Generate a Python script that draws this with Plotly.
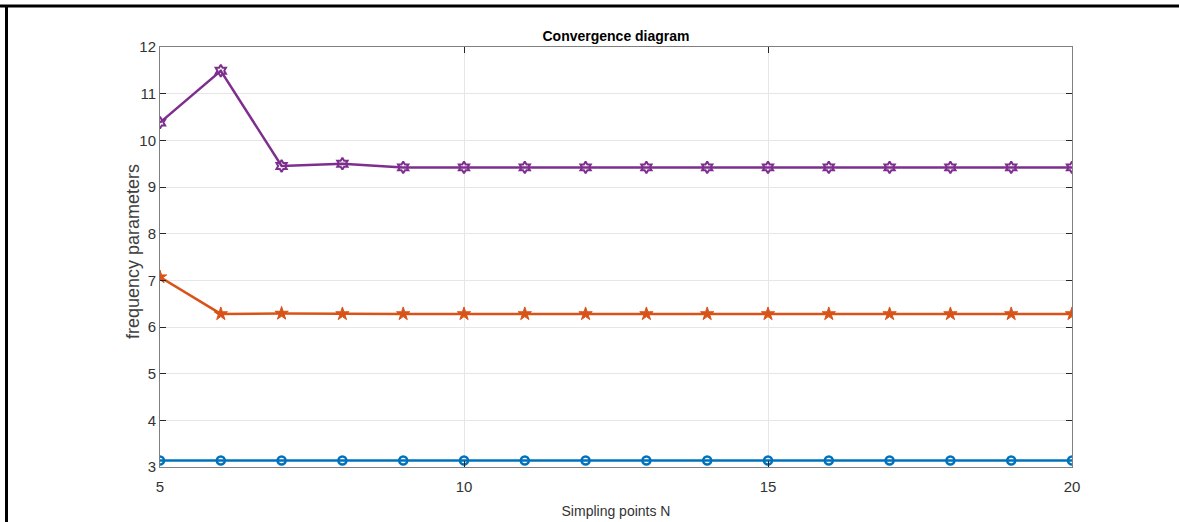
import plotly.graph_objects as go

N = list(range(5, 21))
mode1 = [3.14] * 16
mode2 = [7.07, 6.28, 6.29, 6.28, 6.28, 6.28, 6.28, 6.28, 6.28, 6.28, 6.28, 6.28, 6.28, 6.28, 6.28, 6.28]
mode3 = [10.38, 11.49, 9.45, 9.50, 9.42, 9.42, 9.42, 9.42, 9.42, 9.42, 9.42, 9.42, 9.42, 9.42, 9.42, 9.42]

FONT = "Liberation Sans, Arial, sans-serif"

fig = go.Figure()
fig.add_trace(go.Scatter(x=N, y=mode1, mode="lines+markers",
                         line=dict(color="#0072BD", width=2.5),
                         marker=dict(symbol="circle-open", size=8, color="#0072BD", line=dict(width=2.5))))
fig.add_trace(go.Scatter(x=N, y=mode2, mode="lines+markers",
                         line=dict(color="#D95319", width=2.5),
                         marker=dict(symbol="star", size=10, color="#D95319", line=dict(width=1, color="#D95319"))))
fig.add_trace(go.Scatter(x=N, y=mode3, mode="lines+markers",
                         line=dict(color="#7E2F8E", width=2.5),
                         marker=dict(symbol="hexagram-open", size=9, color="#7E2F8E", line=dict(width=2))))

L, R, T, B = 160, 107, 47, 55
W, H = 1179, 522
pw, ph = W - L - R, H - T - B

def px(x):
    return (x - L) / pw

def py(y):
    return (H - B - y) / ph

fig.update_layout(
    width=W, height=H,
    margin=dict(l=L, r=R, t=T, b=B, autoexpand=False),
    paper_bgcolor="white", plot_bgcolor="white",
    showlegend=False,
    font=dict(family=FONT, color="#262626", size=15),
    title=dict(text="<b>Convergence diagram</b>", x=px(616), xref="paper", xanchor="center",
               y=1 - 36 / H, yanchor="middle", font=dict(size=14, color="#000000")),
    xaxis=dict(range=[5, 20], tickvals=[5, 10, 15, 20], ticks="inside", ticklen=6, tickcolor="#262626",
               showline=True, linecolor="#808080", linewidth=1, mirror="ticks",
               showgrid=True, gridcolor="#e6e6e6", zeroline=False, automargin=False,
               ticklabelstandoff=6,
               tickfont=dict(size=15, color="#333333"),
               title=dict(text="Simpling points N", standoff=12, font=dict(size=14, color="#333333"))),
    yaxis=dict(range=[3, 12], dtick=1, ticks="inside", ticklen=6, tickcolor="#262626",
               showline=True, linecolor="#808080", linewidth=1, mirror="ticks",
               showgrid=True, gridcolor="#e6e6e6", zeroline=False, automargin=False,
               tickfont=dict(size=15, color="#333333")),
    annotations=[
        dict(text="frequency parameters", xref="paper", yref="paper", x=px(133), y=py(252),
             xanchor="center", yanchor="middle", textangle=-90, showarrow=False,
             font=dict(size=18, color="#404040")),
    ],
    shapes=[
        dict(type="line", xref="paper", yref="paper", x0=px(0), x1=px(W), y0=py(6), y1=py(6),
             line=dict(color="black", width=3)),
        dict(type="line", xref="paper", yref="paper", x0=px(6.5), x1=px(6.5), y0=py(5), y1=py(H),
             line=dict(color="black", width=3)),
    ],
)

fig.write_html("out.html")
